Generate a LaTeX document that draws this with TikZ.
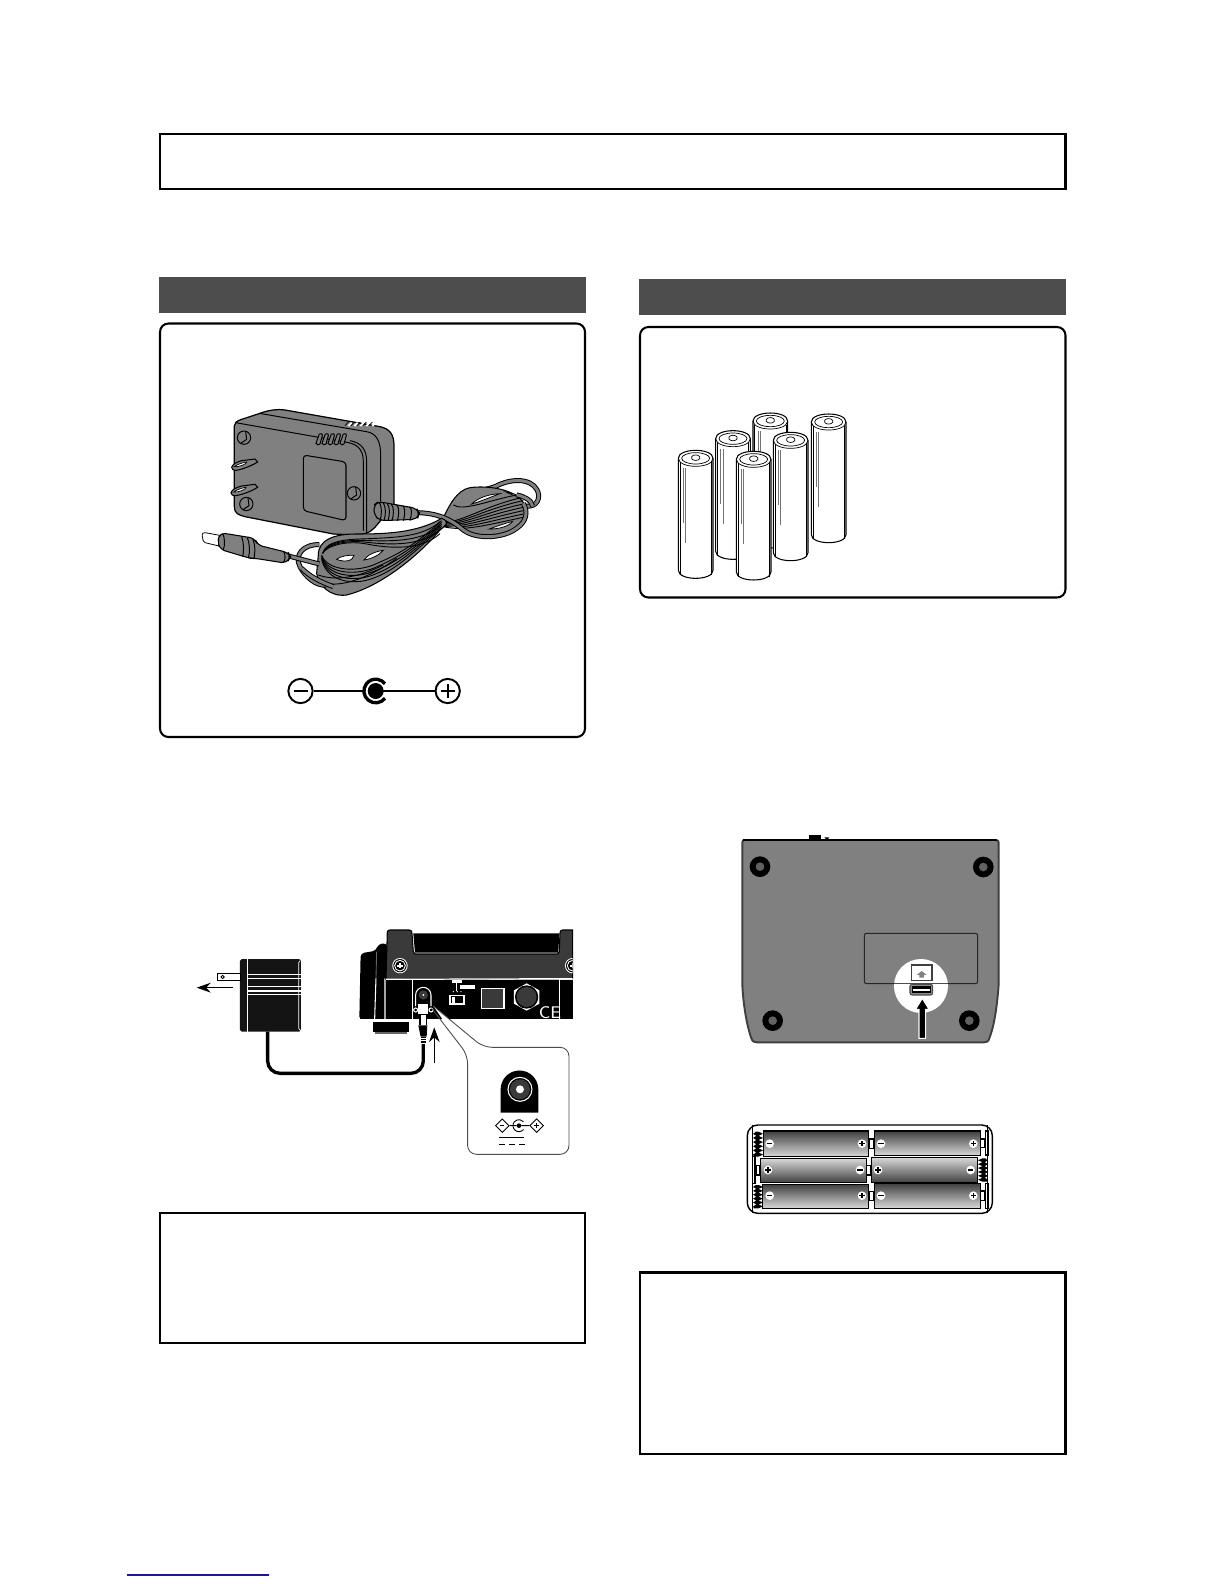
\documentclass[tikz,border=0pt]{standalone}
\usetikzlibrary{shapes.geometric,arrows.meta}
\definecolor{bandgray}{HTML}{4D4D4D}
\definecolor{adgray}{HTML}{808080}
\definecolor{devdark}{HTML}{3A3A3A}
\definecolor{linkblue}{HTML}{1A1A8C}
\tikzset{
  plainbox/.style={draw=black,line width=0.58pt,fill=white},
  softbox/.style={plainbox,rounded corners=2.4pt},
  band/.style={fill=bandgray,draw=none},
  thin line/.style={draw=black,line width=0.28pt},
  fine line/.style={draw=black,line width=0.2pt},
  strand/.style={draw=black,line width=0.26pt},
  wstrand/.style={draw=black,line width=0.28pt,double=adgray,double distance=0.85pt},
  polar/.style={circle,draw=black,line width=0.55pt,fill=white,minimum size=6.9pt,inner sep=0pt},
  tinydiamond/.style={diamond,draw=black,line width=0.25pt,fill=white,minimum size=3.9pt,inner sep=0pt},
}
\newcommand{\cell}[3]{%
  \path[fill=white,draw=black,line width=0.3pt] (#1-52,#2) -- (#1-52,#3)
    .. controls (#1-52,#3+32) and (#1+52,#3+32) .. (#1+52,#3) -- (#1+52,#2)
    .. controls (#1+52,#2-32) and (#1-52,#2-32) .. (#1-52,#2) -- cycle;
  \draw[fine line] (#1-47,#2+12) -- (#1-47,#3+14);
  \draw[fine line] (#1+47,#2+12) -- (#1+47,#3+14);
  \draw[fine line] (#1-52,#2) .. controls (#1-50,#2+32) and (#1+50,#2+32) .. (#1+52,#2);
  \draw[fine line] (#1,#2) ellipse [x radius=42,y radius=17];
  \path[fill=white,draw=black,line width=0.2pt] (#1-12,#2-5) -- (#1-12,#2+1) .. controls (#1-8,#2+8) and (#1+8,#2+8) .. (#1+12,#2+1) -- (#1+12,#2-5) .. controls (#1+8,#2-12) and (#1-8,#2-12) .. (#1-12,#2-5) -- cycle;
  \draw[fine line,draw=black!55] (#1-37,#2+30) -- (#1-37,#2+195);
  \draw[fine line,draw=black!55] (#1-30,#2+30) -- (#1-30,#2+255);
}
\newcommand{\aacell}[5]{%
  \shade[#5] (#1,#2) rectangle (#3,#4);
  \draw[draw=black,line width=0.32pt] (#1,#2) rectangle (#3,#4);
}
\newcommand{\polmark}[3]{%
  \fill[white] (#1,#2) circle [radius=13];
  \draw[black,line width=0.4pt] (#1-8,#2) -- (#1+8,#2);
  \ifnum#3=1 \draw[black,line width=0.4pt] (#1,#2-8) -- (#1,#2+8);\fi
}
% #1 spine x, #2 top y, #3 height, #4 signed spike length
\newcommand{\springmark}[4]{%
  \fill[black] (#1,#2)
    foreach \q in {0,1,...,5} {
      -- (#1+#4*0.5,#2+\q*#3/6)
      -- (#1+#4,#2+\q*#3/6+#3/12)
      -- (#1+#4*0.5,#2+\q*#3/6+#3/6)
    } -- (#1,#2+#3)
    foreach \q in {5,4,...,0} {
      -- (#1-#4*0.1,#2+\q*#3/6+#3/12) -- (#1+#4*0.25,#2+\q*#3/6)
    } -- cycle;
}
\begin{document}
\begin{tikzpicture}[x=0.01cm,y=-0.01cm]
\useasboundingbox (0,0) rectangle (1224,1584);
\fill[white] (0,0) rectangle (1224,1584);

% frames and bands
\draw[plainbox] (160,134) rectangle (1065.5,189);
\fill[band] (158.5,277) rectangle (586,313);
\fill[band] (638.5,279) rectangle (1066,315);
\draw[softbox] (160,323.5) rectangle (585,737);
\draw[softbox] (640,327) rectangle (1065.5,597.5);
\draw[plainbox] (160,1213) rectangle (585,1343);
\draw[plainbox] (640,1272.5) rectangle (1065.5,1454);
\draw[linkblue,line width=0.45pt] (127,1575) -- (269,1575);

% ---------- AC adapter
\begin{scope}[shift={(170,390)},scale=0.3333]
  \path[fill=adgray,draw=black,line width=0.35pt]
    (193,108) .. controls (193,98) and (200,93) .. (215,88) -- (270,70)
    .. controls (290,62) and (320,56) .. (345,60) -- (630,110)
    .. controls (660,116) and (672,135) .. (672,165) -- (672,345)
    -- (625,400) .. controls (600,432) and (585,432) .. (560,435) -- (490,432)
    -- (225,380) .. controls (205,375) and (193,370) .. (193,350) -- cycle;
  \draw[thin line] (197,98) -- (520,155) .. controls (560,160) and (580,175) .. (580,215) -- (580,422);
  \draw[thin line] (540,152) .. controls (575,158) and (590,180) .. (590,215) -- (590,430);
  \draw[thin line] (268,70) -- (590,125) .. controls (620,130) and (632,155) .. (632,195) -- (632,335);
  \path[draw=black,line width=0.3pt,rounded corners=1pt] (400,195) -- (528,216) -- (528,392) -- (400,362) -- cycle;
  \foreach \d in {0,18,36,54,72} {
    \draw[thin line,fill=adgray] (438+\d,160) -- (448+\d,132) .. controls (456+\d,130) and (458+\d,132) .. (457+\d,137) -- (450+\d,162) .. controls (447+\d,166) and (440+\d,165) .. (438+\d,160) -- cycle;
  }
  \foreach \d in {0,18,36,54,72} {
    \draw[white,line width=0.5pt] (545+\d,98) -- (535+\d,108);
    \draw[fine line] (535+\d,96) -- (525+\d,107);
  }
  \foreach \cx/\cy in {222/143,229/342,552/310} {
    \draw[thin line,fill=adgray] (\cx,\cy) circle [radius=20];
    \draw[thin line] (\cx+5,\cy-19) -- (\cx+8,\cy+5) -- (\cx-10,\cy+17);
  }
  \path[fill=adgray,draw=black,line width=0.3pt] (185,232) .. controls (188,222) and (200,216) .. (215,212) -- (255,207) -- (263,216) .. controls (240,230) and (215,238) .. (200,241) .. controls (190,241) and (184,238) .. (185,232) -- cycle;
  \path[fill=white,draw=black,line width=0.2pt] (193,230) .. controls (200,223) and (225,216) .. (230,216) .. controls (232,222) and (205,232) .. (193,230) -- cycle;
  \path[fill=adgray,draw=black,line width=0.3pt] (183,308) .. controls (186,298) and (200,292) .. (215,288) -- (255,283) -- (263,292) .. controls (240,306) and (215,314) .. (198,317) .. controls (188,317) and (182,314) .. (183,308) -- cycle;
  \path[fill=white,draw=black,line width=0.2pt] (191,306) .. controls (198,299) and (223,292) .. (228,292) .. controls (230,298) and (203,308) .. (191,306) -- cycle;

  % outer strand, right
  \draw[wstrand] (850,340) .. controls (880,300) and (950,305) .. (985,285) .. controls (1040,260) and (1100,270) .. (1106,315) .. controls (1108,345) and (1080,355) .. (1055,345);
  % right mass of cord
  \path[fill=adgray,draw=black,line width=0.3pt] (815,395) .. controls (835,350) and (860,300) .. (900,293)
    .. controls (960,285) and (1050,300) .. (1066,350) .. controls (1075,385) and (1050,425) .. (1000,437)
    .. controls (950,448) and (890,440) .. (860,410) .. controls (845,397) and (830,395) .. (815,395) -- cycle;
  \path[fill=white,draw=black,line width=0.22pt] (905,342) .. controls (925,322) and (960,312) .. (990,311) .. controls (965,320) and (935,333) .. (905,342) -- cycle;
  \path[fill=white,draw=black,line width=0.22pt] (1008,306) .. controls (1025,308) and (1040,314) .. (1048,322) .. controls (1035,318) and (1020,312) .. (1008,306) -- cycle;
  \path[fill=white,draw=black,line width=0.22pt] (958,417) .. controls (985,407) and (1010,399) .. (1028,394) .. controls (1020,408) and (985,418) .. (958,417) -- cycle;
  \foreach \a in {0,10,20,30,40,50,60} {
    \draw[strand] (820,398+\a*0.2) .. controls (880,395+\a*0.5) and (950,345+\a) .. (1060,322+\a);
  }
  \draw[strand] (850,345) .. controls (880,365) and (960,330) .. (1040,315);
  \draw[wstrand] (745,368) .. controls (800,370) and (840,385) .. (880,420) .. controls (920,450) and (1000,445) .. (1040,415) .. controls (1070,395) and (1075,365) .. (1060,340);
  \draw[wstrand] (1040,315) .. controls (1060,318) and (1085,330) .. (1088,348);
  % left mass of cord
  \path[fill=adgray,draw=black,line width=0.3pt] (445,495) .. controls (445,450) and (490,432) .. (560,432)
    .. controls (640,432) and (740,430) .. (815,385) .. controls (840,395) and (830,405) .. (810,420)
    .. controls (770,470) and (650,585) .. (530,615) .. controls (480,622) and (445,585) .. (440,550) -- cycle;
  \path[fill=white,draw=black,line width=0.22pt] (500,508) .. controls (512,498) and (535,495) .. (552,496) .. controls (550,503) and (545,510) .. (535,512) .. controls (523,514) and (512,513) .. (500,508) -- cycle;
  \path[fill=white,draw=black,line width=0.22pt] (582,510) .. controls (592,494) and (618,484) .. (640,481) .. controls (628,495) and (605,507) .. (582,510) -- cycle;
  \foreach \a in {0,11,22,33,44} {
    \draw[strand] (815,392+\a*0.5) .. controls (730,470+\a*0.4) and (680,495+\a) .. (610,525+\a*0.9) .. controls (550,548+\a*0.9) and (470,540+\a*0.8) .. (455,495+\a*0.3);
  }
  \foreach \a in {0,12,24,36} {
    \draw[strand] (810,395+\a) .. controls (760,440+\a) and (680,442+\a) .. (600,446+\a*0.5) .. controls (530,448) and (470,450+\a*0.5) .. (458,490);
  }
  \draw[strand] (465,580) .. controls (510,590) and (590,570) .. (680,505);
  \draw[strand] (445,555) .. controls (500,575) and (570,560) .. (640,525);
  % small left loop and cord to plug
  \draw[wstrand] (470,585) .. controls (440,590) and (405,560) .. (390,530) .. controls (372,495) and (400,462) .. (448,464);
  \draw[wstrand] (395,535) .. controls (420,560) and (450,575) .. (490,590);
  \draw[wstrand] (352,497) -- (448,522);
  % strain relief
  \path[fill=adgray,draw=black,line width=0.3pt,rounded corners=1.5pt] (612,345) -- (625,335) -- (740,355) -- (748,370) -- (742,388) -- (630,392) -- (612,375) -- cycle;
  \foreach \d in {0,12,24,36,52,70,90} {
    \draw[thin line] (628+\d,337+\d*0.15) .. controls (636+\d,350) and (636+\d,375) .. (630+\d,392);
  }
  % barrel plug
  \path[fill=white,draw=black,line width=0.22pt] (97,440) .. controls (95,430) and (100,427) .. (105,428) -- (160,438) -- (155,470) -- (105,458) .. controls (100,456) and (98,450) .. (97,440) -- cycle;
  \path[fill=adgray,draw=black,line width=0.3pt,rounded corners=1.5pt] (150,428) -- (255,445) -- (262,465) -- (355,488) -- (362,500) -- (350,520) -- (255,505) -- (240,505) -- (150,478) -- (143,455) -- cycle;
  \draw[thin line] (215,440) .. controls (222,460) and (222,485) .. (218,500);
  \draw[thin line] (232,443) .. controls (240,465) and (240,485) .. (235,505);
  \draw[thin line] (248,445) .. controls (256,465) and (256,485) .. (252,505);
  \draw[thin line] (340,483) .. controls (348,495) and (346,510) .. (340,518);
  \draw[thin line] (158,430) .. controls (165,445) and (165,465) .. (160,480);
\end{scope}

% polarity symbol
\node[polar] (neg) at (300.5,691) {};
\node[circle,inner sep=0pt,minimum size=1pt] (ctr) at (375.7,691) {};
\node[polar] (pos) at (447.7,691) {};
\draw[black,line width=0.62pt] (neg) -- (ctr);
\fill[white] (375.7,691) circle [radius=12];
\draw[black,line width=0.62pt] (ctr) -- (pos);
\fill[black] (375.7,691) circle [radius=8];
\draw[black,line width=0.95pt] (375.7,691) ++(38:11.8) arc [start angle=38,end angle=322,radius=11.8];
\draw[black,line width=0.5pt] (293.5,691) -- (307.5,691);
\draw[black,line width=0.5pt] (440.7,691) -- (454.7,691) (447.7,684) -- (447.7,698);

% ---------- connection drawing
\begin{scope}[shift={(170,920)},scale=0.3333]
  \fill[black!92,rounded corners=0.5pt] (210,117) rectangle (393,335);
  \draw[white,line width=0.3pt] (232,117) -- (232,335);
  \draw[white,line width=0.2pt] (390,122) -- (386,128) -- (386,325) -- (392,332);
  \foreach \yy in {163,176,200,213,224}
    \draw[white,line width=0.3pt] (232,\yy) -- (393,\yy);
  \path[fill=white,draw=black,line width=0.25pt] (143,160) rectangle (210,182);
  \draw[black,line width=0.25pt] (158,171) circle [radius=5];
  \draw[black,line width=0.3pt,-{Stealth[length=4pt,width=2.8pt]}] (190,203) -- (80,203);
  % cable
  \draw[black,line width=0.95pt,rounded corners=3.5pt] (293,335) -- (293,460) -- (760,460) -- (760,370);
  % device body
  \path[fill=black,rounded corners=1pt] (572,100) -- (618,92) -- (625,72) -- (652,70) -- (652,300) -- (568,300) -- cycle;
  \draw[black!60,line width=0.25pt] (620,95) -- (618,175);
  \draw[white,line width=0.3pt] (618,175) -- (614,298) (645,175) -- (645,298);
  \path[fill=devdark,draw=black,line width=0.3pt] (652,35) .. controls (653,31) and (656,30) .. (660,30) -- (718,30) .. controls (724,30) and (726,34) .. (726,40) -- (730,95) -- (735,102) -- (1162,102) -- (1168,95) -- (1170,40) .. controls (1170,34) and (1172,30) .. (1178,30) -- (1208,30) -- (1208,176) -- (648,178) -- cycle;
  \fill[black] (730,40) -- (1168,40) -- (1165,98) -- (735,98) -- cycle;
  \fill[black] (648,180) rectangle (1208,300);
  \draw[white,line width=0.35pt] (648,178) -- (1208,176);
  \draw[white,line width=0.35pt] (727,178) -- (727,298) (1168,178) -- (1168,298);
  \draw[white,line width=0.35pt] (1208,300) -- (568,300);
  \fill[black] (610,305) rectangle (717,335);
  \fill[black!60] (615,335) rectangle (712,342);
  \begin{scope}
    \clip (640,20) rectangle (1208,200);
    \foreach \cx in {690,1208} {
      \fill[white] (\cx,137) circle [radius=23];
      \fill[black] (\cx,137) circle [radius=20];
      \draw[white,line width=0.25pt] (\cx,137) circle [radius=16];
      \draw[white,line width=0.5pt] (\cx-8,137) -- (\cx+8,137) (\cx,129) -- (\cx,145);
    }
  \end{scope}
  % jack
  \draw[white,line width=0.3pt] (737,258) -- (737,225) arc [start angle=180,end angle=360,radius=23] -- (783,258);
  \fill[devdark] (760,225) circle [radius=14];
  \fill[white] (760,225) circle [radius=3];
  \draw[white,line width=0.3pt] (737,270) circle [radius=6] (783,270) circle [radius=6];
  % switch and labels
  \fill[white] (847,180) rectangle (875,190);
  \fill[white] (870,195) rectangle (915,207);
  \foreach \xx in {850,862,873} \fill[white] (\xx,215) circle [radius=2];
  \draw[white,line width=0.2pt] (860,190) -- (860,213);
  \fill[white] (838,224) rectangle (885,254);
  \fill[black] (843,229) rectangle (880,250);
  \fill[white] (846,231) rectangle (856,248);
  % ports
  \path[draw=white,fill=devdark,line width=0.45pt] (934,206) rectangle (1002,265);
  \path[fill=white] (1070,190) -- (1108,211) -- (1108,251) -- (1070,272) -- (1032,251) -- (1032,211) -- cycle;
  \fill[black] (1070,231) circle [radius=35];
  \fill[devdark] (1070,231) circle [radius=30];
  \node[text=white,font=\sffamily\fontsize{4.8pt}{5pt}\selectfont,inner sep=0pt] (ce) at (1140,279) {CE};
  % plug
  \fill[white] (745,252) rectangle (775,282);
  \fill[black] (748,282) rectangle (772,316);
  \fill[white] (752,286) rectangle (768,314);
  \fill[black] (745,316) -- (772,316) -- (770,350) -- (752,350) -- cycle;
  \fill[black] (752,350) rectangle (768,372);
  \foreach \yy in {355,362,369} \draw[white,line width=0.2pt] (753,\yy) -- (767,\yy);
  % insertion arrow
  \draw[black,line width=0.3pt,-{Stealth[length=4.2pt,width=3pt]}] (793,428) -- (793,322);
  % callout
  \path[fill=white,rounded corners=2.5pt] (1170,382) -- (1197,382) -- (1197,703) -- (893,703) -- (893,405) -- (940,382) -- cycle;
  \path[fill=white] (790,258) -- (940,382) -- (1000,390) -- (893,420) -- (893,405) -- cycle;
  \path[draw=black!70,line width=0.25pt,rounded corners=2.5pt] (790,258) -- (940,382) -- (1197,382) -- (1197,703) -- (893,703) -- (893,405) -- (785,265);
  % callout jack
  \path[fill=black] (992,578) -- (992,508) arc [start angle=180,end angle=360,radius=56.5] -- (1105,578) -- cycle;
  \draw[white,line width=0.3pt] (1050,508) circle [radius=36];
  \fill[devdark] (1050,508) circle [radius=30];
  \fill[white] (1050,508) circle [radius=12];
  \draw[white,line width=0.3pt] (999,472) arc [start angle=215,end angle=325,radius=62];
  % callout symbols
  \node[tinydiamond] (cneg) at (997,617) {};
  \node[tinydiamond] (cpos) at (1100,617) {};
  \node[circle,inner sep=0pt,minimum size=1pt] (cmid) at (1047,617) {};
  \draw[black,line width=0.25pt] (cneg) -- (cmid);
  \draw[black,line width=0.25pt] (cmid) -- (cpos);
  \fill[black] (1047,617) circle [radius=7];
  \draw[black,line width=0.25pt] (1047,617) ++(40:18) arc [start angle=40,end angle=320,radius=18];
  \draw[black,line width=0.25pt] (991,617) -- (1003,617) (1093,617) -- (1107,617) (1100,610) -- (1100,624);
  \draw[black,line width=0.3pt] (988,652) -- (1062,652);
  \draw[black,line width=0.3pt] (988,673) -- (1004,673) (1018,673) -- (1034,673) (1048,673) -- (1064,673);
\end{scope}

% ---------- AA cells
\begin{scope}[shift={(660,400)},scale=0.3333]
  \cell{331}{63}{420}
  \cell{506}{66}{404}
  \cell{219}{116}{454}
  \cell{392}{121}{458}
  \cell{281}{178}{516}
  \cell{107}{175}{511}
\end{scope}

% ---------- device underside
\begin{scope}[shift={(730,825)},scale=0.3333]
  \fill[black] (238,30) rectangle (272,50);
  \fill[black] (283,37) -- (298,37) -- (294,42) -- (294,48) -- (288,48) -- (288,42) -- cycle;
  \path[fill=adgray,draw=black!75,line width=0.55pt]
    (37,52) .. controls (37,47) and (40,45) .. (45,45) -- (798,45) .. controls (803,45) and (806,48) .. (806,52)
    -- (806,480) .. controls (800,560) and (790,610) .. (778,640) .. controls (775,650) and (770,652) .. (762,652)
    -- (80,652) .. controls (72,652) and (68,650) .. (64,640) .. controls (50,600) and (40,540) .. (37,480) -- cycle;
  \draw[black,line width=0.5pt] (40,45) -- (802,45);
  \foreach \cx/\cy in {90/125,760/126,128/587,718/587} {
    \fill[black] (\cx,\cy) circle [radius=31];
    \fill[black!62] (\cx,\cy) circle [radius=13];
  }
  \draw[black!85,line width=0.3pt,rounded corners=0.6pt] (403,325) rectangle (743,476);
  \fill[white] (573,483) circle [radius=81];
  \draw[black!70,line width=0.3pt] (492,476) -- (654,476);
  \draw[black!75,line width=0.3pt] (545,420) rectangle (606,466);
  \fill[black!50] (575,438) -- (590,450) -- (582,450) -- (582,458) -- (568,458) -- (568,450) -- (560,450) -- cycle;
  \path[fill=black!45,draw=black!70,line width=0.3pt,rounded corners=0.6pt] (540,478) rectangle (608,510);
  \fill[black] (547,484) rectangle (602,504);
  \fill[white] (549,491) rectangle (600,497);
  \path[fill=black,draw=white,line width=0.3pt] (577,520) -- (597,553) -- (587,553) -- (587,640) -- (567,640) -- (567,553) -- (557,553) -- cycle;
\end{scope}

% ---------- battery holder
\begin{scope}[shift={(740,1115)},scale=0.3333]
  \draw[black,line width=0.4pt,rounded corners=3pt] (22,30) rectangle (757,295);
  \draw[black,line width=0.3pt] (38,30) -- (38,295) (743,30) -- (743,295);
  \aacell{70}{48}{386}{124}{top color=black!75,bottom color=black!15}
  \aacell{403}{48}{722}{121}{top color=black!75,bottom color=black!15}
  \aacell{62}{130}{380}{203}{top color=black!15,bottom color=black!75}
  \aacell{394}{127}{713}{203}{top color=black!15,bottom color=black!75}
  \aacell{68}{208}{386}{280}{top color=black!75,bottom color=black!15}
  \aacell{403}{205}{722}{280}{top color=black!75,bottom color=black!15}
  \polmark{89}{86}{0}\polmark{366}{86}{1}\polmark{423}{86}{0}\polmark{700}{86}{1}
  \polmark{84}{165}{1}\polmark{360}{165}{0}\polmark{414}{165}{1}\polmark{692}{165}{0}
  \polmark{89}{242}{0}\polmark{366}{242}{1}\polmark{423}{242}{0}\polmark{700}{242}{1}
  \foreach \xa/\ya/\xb/\yb in {388/72/402/100,722/72/735/98,48/152/60/180,380/152/393/180,388/230/402/257,722/228/735/257}
    \draw[black,line width=0.3pt] (\xa,\ya) rectangle (\xb,\yb);
  \draw[black,line width=0.3pt] (737,48) rectangle (745,120) (737,205) rectangle (745,280) (38,125) rectangle (45,205);
  \springmark{42}{50}{75}{27}
  \springmark{42}{210}{70}{27}
  \springmark{741}{130}{70}{-27}
\end{scope}
\end{tikzpicture}
\end{document}
